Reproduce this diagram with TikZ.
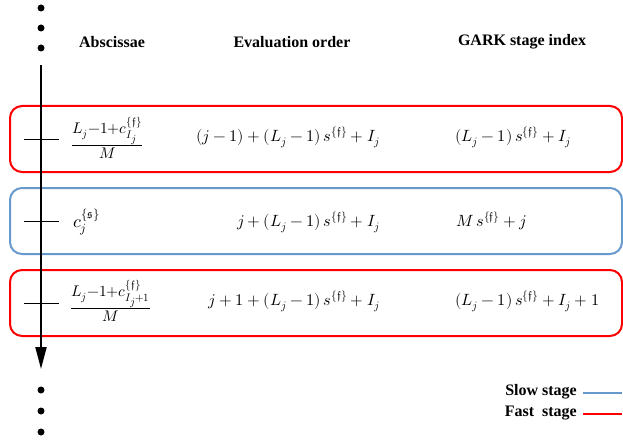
\documentclass[tikz,border=0pt]{standalone}
\usepackage{fontspec}
\usepackage{unicode-math}
\setmathfont{Latin Modern Math}
\newfontfamily\headfont{Liberation Serif}
\usetikzlibrary{arrows.meta,positioning}
\definecolor{slowblue}{RGB}{102,153,204}
\definecolor{fastred}{RGB}{255,0,0}
\newcommand{\fsup}{\{\mathfrak{f}\}}
\newcommand{\ssup}{\{\mathfrak{s}\}}

\begin{document}
\begin{tikzpicture}[
  x=1pt,y=-1pt,
  hdr/.style={inner sep=0pt,font=\headfont\bfseries\fontsize{16}{19}\selectfont},
  fml/.style={inner sep=0pt,font=\fontsize{16.3}{19}\selectfont},
  absfml/.style={inner sep=0pt,font=\fontsize{22}{25}\selectfont},
  dot/.style={circle,fill=black,inner sep=0pt,minimum size=7pt},
  rowbox/.style={rectangle,rounded corners=12pt,line width=2pt,
    minimum width=612pt,minimum height=66pt},
  fastbox/.style={rowbox,draw=fastred},
  slowbox/.style={rowbox,draw=slowblue},
  tickmark/.style={line width=1pt},
  timeline/.style={line width=2pt,-{Triangle[length=22pt,width=11pt]}}
]
  \useasboundingbox (0,0) rectangle (623,441);

  % dots above and below the time axis
  \foreach \y [count=\i] in {8,28,48}
    \node[dot] (topdot\i) at (41,\y) {};
  \foreach \y [count=\i] in {390,411,432}
    \node[dot] (botdot\i) at (41,\y) {};

  % column headers
  \node[hdr] (hAbs)  at (112,42) {Abscissae};
  \node[hdr] (hEval) at (292,42) {Evaluation order};
  \node[hdr] (hGark) at (522,42) {GARK stage index};

  % stage boxes
  \node[fastbox] (rowA) at (316,139) {};
  \node[slowbox] (rowB) at (316,221) {};
  \node[fastbox] (rowC) at (316,303) {};

  % time axis
  \coordinate (tlTop) at (41,65);
  \coordinate (tlTip) at (41,369);
  \draw[timeline] (tlTop) -- (tlTip);

  % ticks on the axis
  \foreach \r in {rowA,rowB,rowC}
    \draw[tickmark] ([xshift=15pt]\r.west) -- ([xshift=50pt]\r.west);

  % abscissae
  \node[absfml,anchor=west] (absA) at (71,138) {$\frac{L_j-1+c^{\fsup}_{I_j}}{M}$};
  \node[fml,anchor=west,font=\fontsize{18}{21}\selectfont] (absB) at (73,222) {$c^{\ssup}_j$};
  \node[absfml,anchor=west] (absC) at (70,301) {$\frac{L_j-1+c^{\fsup}_{I_j+1}}{M}$};

  % evaluation order
  \node[fml,anchor=east] (evalA) at (380,137) {$(j-1)+(L_j-1)\,s^{\fsup}+I_j$};
  \node[fml,anchor=east] (evalB) at (380,222) {$j+(L_j-1)\,s^{\fsup}+I_j$};
  \node[fml,anchor=east] (evalC) at (380,301) {$j+1+(L_j-1)\,s^{\fsup}+I_j$};

  % GARK stage index
  \node[fml,anchor=west] (garkA) at (455,137) {$(L_j-1)\,s^{\fsup}+I_j$};
  \node[fml,anchor=west] (garkB) at (456,221) {$M\,s^{\fsup}+j$};
  \node[fml,anchor=west] (garkC) at (455,301) {$(L_j-1)\,s^{\fsup}+I_j+1$};

  % legend
  \node[hdr,anchor=east] (slowLbl) at (577,392) {Slow stage};
  \node[hdr,anchor=east] (fastLbl) at (577,413) {Fast\ \ stage};
  \coordinate (slowEnd) at (622,393);
  \coordinate (fastEnd) at (622,414);
  \draw[slowblue,line width=2pt] ([xshift=6pt]slowLbl.east |- slowEnd) -- (slowEnd);
  \draw[fastred,line width=2pt] ([xshift=6pt]fastLbl.east |- fastEnd) -- (fastEnd);
\end{tikzpicture}
\end{document}
